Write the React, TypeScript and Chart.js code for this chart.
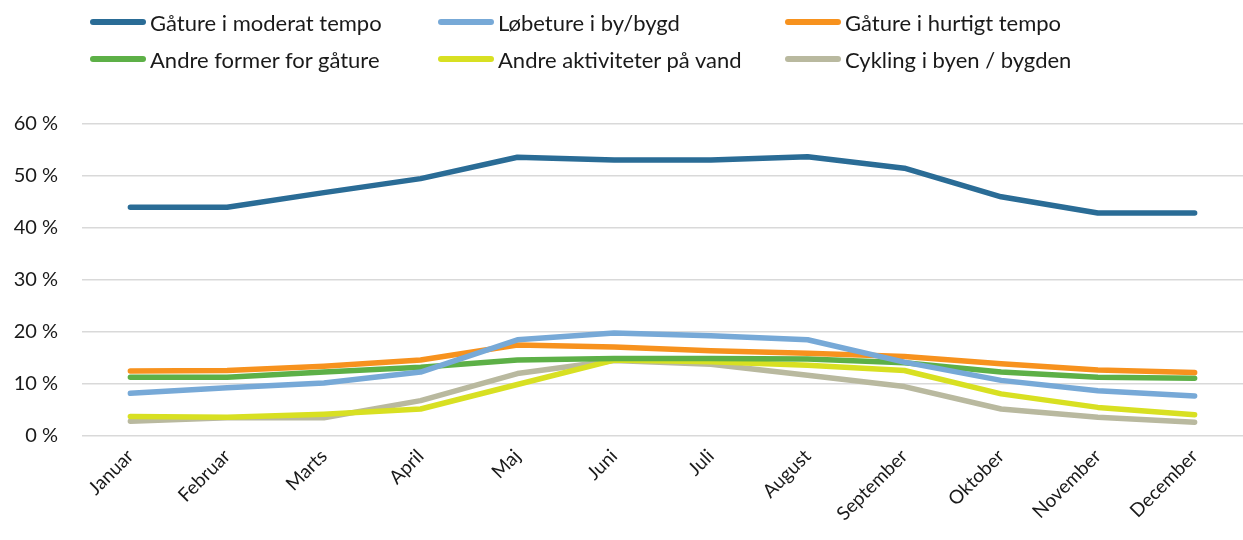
import React, { useEffect, useRef } from "react";
import { Chart, registerables } from "chart.js";

Chart.register(...registerables);

const months = ["Januar", "Februar", "Marts", "April", "Maj", "Juni", "Juli", "August", "September", "Oktober", "November", "December"];

const seriesNames = [
  "Gåture i moderat tempo",
  "Løbeture i by/bygd",
  "Gåture i hurtigt tempo",
  "Andre former for gåture",
  "Andre aktiviteter på vand",
  "Cykling i byen / bygden",
];

const moderat = [44.0, 44.0, 46.8, 49.5, 53.6, 53.1, 53.1, 53.7, 51.5, 46.0, 42.9, 42.9];
const loebe = [8.2, 9.3, 10.2, 12.3, 18.5, 19.8, 19.3, 18.5, 14.2, 10.7, 8.7, 7.7];
const hurtigt = [12.5, 12.6, 13.4, 14.6, 17.5, 17.1, 16.4, 15.9, 15.3, 13.9, 12.7, 12.2];
const andreGaa = [11.3, 11.3, 12.3, 13.2, 14.6, 14.9, 14.9, 14.8, 14.1, 12.3, 11.3, 11.1];
const vand = [3.75, 3.6, 4.2, 5.2, 9.9, 14.6, 14.3, 13.6, 12.6, 8.1, 5.5, 4.1];
const cykling = [2.85, 3.5, 3.5, 6.8, 12.0, 14.5, 13.8, 11.7, 9.5, 5.2, 3.6, 2.65];

const yTicks = [0, 10, 20, 30, 40, 50, 60];

const colors = ["#2A6C96", "#77A9D7", "#F7921E", "#5DB047", "#D8E022", "#B9B99F"];
const seriesData = [moderat, loebe, hurtigt, andreGaa, vand, cykling];

const FONT = "Lato, 'Open Sans', sans-serif";

export default function App() {
  const ref = useRef<HTMLCanvasElement | null>(null);

  useEffect(() => {
    if (!ref.current) return;
    const chart = new Chart(ref.current, {
      type: "line",
      data: {
        labels: months,
        datasets: seriesNames.map((name, i) => ({
          label: name,
          data: seriesData[i],
          borderColor: colors[i],
          backgroundColor: colors[i],
          borderWidth: 5.5,
          borderCapStyle: "round" as const,
          borderJoinStyle: "round" as const,
          pointRadius: 0,
          tension: 0,
          fill: false,
        })),
      },
      options: {
        animation: false,
        responsive: false,
        maintainAspectRatio: false,
        layout: { padding: { top: 124, right: 0, left: 0, bottom: 0 } },
        plugins: {
          legend: { display: false },
          tooltip: { enabled: false },
        },
        scales: {
          x: {
            offset: true,
            afterFit: (s: any) => {
              s.height = 104;
            },
            grid: { display: false, drawTicks: false },
            border: { display: false },
            ticks: {
              minRotation: 45,
              maxRotation: 45,
              padding: 9,
              color: "#1a1a1a",
              font: { family: FONT, size: 19 },
              autoSkip: false,
            },
          },
          y: {
            min: 0,
            max: 60,
            afterFit: (s: any) => {
              s.width = 82;
            },
            afterBuildTicks: (s: any) => {
              s.ticks = yTicks.map((v) => ({ value: v }));
            },
            grid: { color: "#D9D9D9", lineWidth: 1.5, drawTicks: false },
            border: { display: false },
            ticks: {
              padding: 24,
              color: "#1a1a1a",
              font: { family: FONT, size: 20 },
              callback: (v: any) => `${v} %`,
            },
          },
        },
      },
    });
    return () => chart.destroy();
  }, []);

  const cols = [90, 438, 785];
  const rows = [22, 59];

  return (
    <div style={{ position: "absolute", left: 0, top: 0, width: 1243, height: 540, background: "#fff" }}>
      <canvas ref={ref} width={1243} height={540} style={{ position: "absolute", left: 0, top: 0 }} />
      {seriesNames.map((name, i) => {
        const c = i % 3;
        const r = Math.floor(i / 3);
        return (
          <div
            key={name}
            style={{
              position: "absolute",
              left: cols[c],
              top: rows[r] - 15,
              height: 30,
              display: "flex",
              alignItems: "center",
              fontFamily: FONT,
              fontSize: 22,
              color: "#1a1a1a",
              whiteSpace: "nowrap",
            }}
          >
            <span
              style={{
                display: "inline-block",
                width: 56,
                height: 6,
                borderRadius: 3,
                background: colors[i],
                marginRight: 4,
              }}
            />
            <span>{name}</span>
          </div>
        );
      })}
    </div>
  );
}
